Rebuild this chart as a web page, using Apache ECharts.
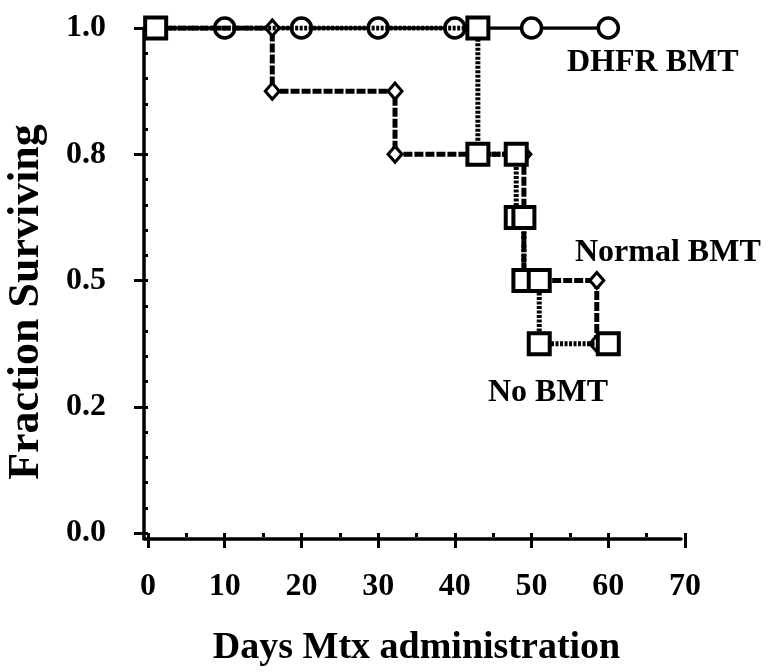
<!DOCTYPE html>
<html>
<head>
<meta charset="utf-8">
<script src="https://cdn.jsdelivr.net/npm/echarts@6/dist/echarts.min.js"></script>
<style>
html,body{margin:0;padding:0;background:#fff;}
#chart{width:768px;height:672px;}
</style>
</head>
<body>
<div id="chart"></div>
<script>
// ---- data ----
const dhfrDays = [1, 10, 20, 30, 40, 50, 60];
const dhfrSurv = [1, 1, 1, 1, 1, 1, 1];

const normalDays = [1, 16.2, 16.2, 32.2, 32.2, 49, 49, 58.5, 58.5];
const normalSurv = [1, 1, 0.875, 0.875, 0.75, 0.75, 0.5, 0.5, 0.375];

const noBmtDays = [1, 43, 43, 48, 48, 49, 49, 51, 51, 60];
const noBmtSurv = [1, 1, 0.75, 0.75, 0.625, 0.625, 0.5, 0.5, 0.375, 0.375];

const xTickValues = [0, 10, 20, 30, 40, 50, 60, 70];
const yTickValues = [0, 0.25, 0.5, 0.75, 1.0];
const yTickLabels = ['0.0', '0.2', '0.5', '0.8', '1.0'];

const seriesNames = ['DHFR BMT', 'Normal BMT', 'No BMT'];
const xTitle = 'Days Mtx administration';
const yTitle = 'Fraction Surviving';

// ---- chart ----
const FONT = 'Liberation Serif';
const pairs = (xs, ys) => xs.map((x, i) => [x, ys[i]]);

const chart = echarts.init(document.getElementById('chart'), null, {renderer: 'canvas'});

const labelStyle = {fontFamily: FONT, fontWeight: 'bold', fontSize: 32, color: '#000'};
const annFont = 'bold 32px "Liberation Serif"';

const option = {
  backgroundColor: '#fff',
  animation: false,
  grid: [
    {left: 148, right: 83, top: 28, bottom: 131},
    {left: 144, right: 87, top: 28, bottom: 133.5}
  ],
  xAxis: [
    {
      type: 'value', gridIndex: 0, min: 0, max: 70, interval: 10,
      offset: 7,
      axisLine: {show: false},
      axisTick: {show: true, length: 15, lineStyle: {color: '#000', width: 3}},
      minorTick: {show: true, splitNumber: 2, length: 4, lineStyle: {color: '#000', width: 3}},
      splitLine: {show: false},
      axisLabel: Object.assign({margin: 31, formatter: v => xTickValues.includes(v) ? String(v) : ''}, labelStyle),
      name: xTitle, nameLocation: 'middle', nameGap: 89,
      nameTextStyle: {fontFamily: FONT, fontWeight: 'bold', fontSize: 38, color: '#000'}
    },
    {
      type: 'value', gridIndex: 1, min: 0, max: 70,
      axisLine: {show: true, lineStyle: {color: '#000', width: 3.5}},
      axisTick: {show: false}, axisLabel: {show: false}, splitLine: {show: false}
    }
  ],
  yAxis: [
    {
      type: 'value', gridIndex: 0, min: 0, max: 1, interval: 0.25,
      offset: 9,
      axisLine: {show: false},
      axisTick: {show: true, length: 14, lineStyle: {color: '#000', width: 3}},
      minorTick: {show: true, splitNumber: 5, length: 3, lineStyle: {color: '#000', width: 3}},
      splitLine: {show: false},
      axisLabel: Object.assign({margin: 33, formatter: v => {
        const i = yTickValues.findIndex(t => Math.abs(t - v) < 1e-9);
        return i >= 0 ? yTickLabels[i] : '';
      }}, labelStyle)
    },
    {
      type: 'value', gridIndex: 1, min: 0, max: 1,
      axisLine: {show: true, lineStyle: {color: '#000', width: 3.5}},
      axisTick: {show: false}, axisLabel: {show: false}, splitLine: {show: false}
    }
  ],
  series: [
    {
      name: seriesNames[0], type: 'line', xAxisIndex: 0, yAxisIndex: 0,
      data: pairs(dhfrDays, dhfrSurv),
      symbol: 'circle', symbolSize: 20,
      itemStyle: {color: '#fff', borderColor: '#000', borderWidth: 3.5},
      lineStyle: {color: '#000', width: 3.5, type: 'solid'},
      z: 2
    },
    {
      name: seriesNames[1], type: 'line', xAxisIndex: 0, yAxisIndex: 0,
      data: pairs(normalDays, normalSurv),
      symbol: 'diamond', symbolSize: [14, 16],
      itemStyle: {color: '#fff', borderColor: '#000', borderWidth: 3},
      lineStyle: {color: '#000', width: 5, type: [9, 2]},
      z: 3
    },
    {
      name: seriesNames[2], type: 'line', xAxisIndex: 0, yAxisIndex: 0,
      data: pairs(noBmtDays, noBmtSurv),
      symbol: 'rect', symbolSize: 21,
      itemStyle: {color: '#fff', borderColor: '#000', borderWidth: 4},
      lineStyle: {color: '#000', width: 5, type: [3, 1.5]},
      z: 4
    }
  ],
  graphic: [
    {type: 'text', x: 27, y: 302, rotation: Math.PI / 2, z: 10, style: {text: yTitle, font: 'bold 44px "Liberation Serif"', fill: '#000', textAlign: 'center', textVerticalAlign: 'middle'}},
    {type: 'text', x: 567, y: 63, z: 10, style: {text: seriesNames[0], font: annFont, fill: '#000', textAlign: 'left', textVerticalAlign: 'middle'}},
    {type: 'text', x: 575, y: 253, z: 10, style: {text: seriesNames[1], font: annFont, fill: '#000', textAlign: 'left', textVerticalAlign: 'middle'}},
    {type: 'text', x: 488, y: 393, z: 10, style: {text: seriesNames[2], font: annFont, fill: '#000', textAlign: 'left', textVerticalAlign: 'middle'}}
  ]
};
chart.setOption(option);
</script>
</body>
</html>
